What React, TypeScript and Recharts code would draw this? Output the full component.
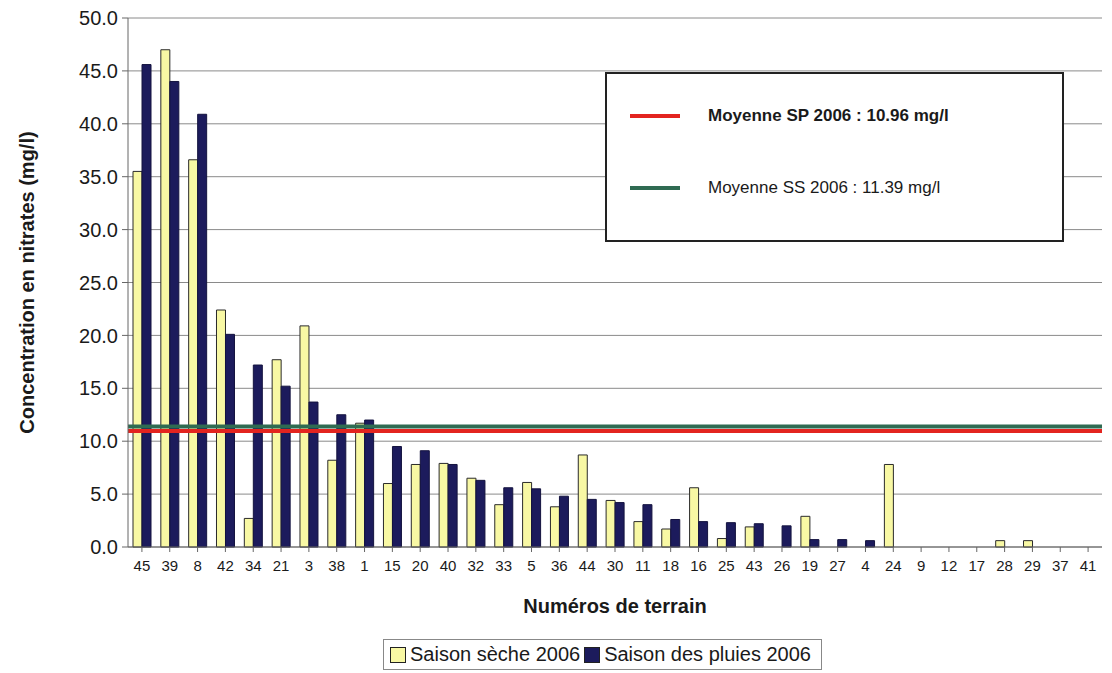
import React from "react"
import {
  BarChart,
  Bar,
  XAxis,
  YAxis,
  CartesianGrid,
  Legend,
  ReferenceLine,
} from "recharts"

// Numéros de terrain, triés comme sur l'axe
const terrains = [
  "45", "39", "8", "42", "34", "21", "3", "38", "1", "15", "20", "40", "32", "33", "5", "36", "44", "30",
  "11", "18", "16", "25", "43", "26", "19", "27", "4", "24", "9", "12", "17", "28", "29", "37", "41",
]

// Concentrations en nitrates (mg/l)
const saisonSeche = [
  35.5, 47.0, 36.6, 22.4, 2.7, 17.7, 20.9, 8.2, 11.7, 6.0, 7.8, 7.9, 6.5, 4.0, 6.1, 3.8, 8.7, 4.4,
  2.4, 1.7, 5.6, 0.8, 1.9, 0, 2.9, 0, 0, 7.8, 0, 0, 0, 0.6, 0.6, 0, 0,
]
const saisonPluies = [
  45.6, 44.0, 40.9, 20.1, 17.2, 15.2, 13.7, 12.5, 12.0, 9.5, 9.1, 7.8, 6.3, 5.6, 5.5, 4.8, 4.5, 4.2,
  4.0, 2.6, 2.4, 2.3, 2.2, 2.0, 0.7, 0.7, 0.6, 0, 0, 0, 0, 0, 0, 0, 0,
]

const yTicks = [0, 5, 10, 15, 20, 25, 30, 35, 40, 45, 50]

const moyenneSP = 10.96
const moyenneSS = 11.39

const FONT = "'Liberation Sans', Arial, sans-serif"
const JAUNE = "#f8f8a4"
const MARINE = "#1c1b5c"
const ROUGE = "#e3241f"
const VERT = "#2f6b52"

const data = terrains.map((t, i) => ({
  terrain: t,
  seche: saisonSeche[i],
  pluies: saisonPluies[i],
}))

function YTitle(props: any) {
  const vb = props.viewBox || {}
  const cx = (vb.x ?? 0) + 27
  const cy = (vb.y ?? 0) + (vb.height ?? 0) / 2
  return (
    <text
      x={cx}
      y={cy}
      transform={`rotate(-90 ${cx} ${cy})`}
      textAnchor="middle"
      dominantBaseline="central"
      fontFamily={FONT}
      fontWeight="bold"
      fontSize={20}
      fill="#1a1a1a"
    >
      Concentration en nitrates (mg/l)
    </text>
  )
}

function SaisonLegend() {
  const item = (color: string, label: string) => (
    <span style={{ display: "inline-flex", alignItems: "center", marginRight: 4 }}>
      <span
        style={{
          display: "inline-block",
          width: 14,
          height: 14,
          background: color,
          border: "1.5px solid #222",
          marginRight: 4,
        }}
      />
      <span>{label}</span>
    </span>
  )
  return (
    <div
      style={{
        display: "inline-flex",
        alignItems: "center",
        border: "1px solid #888",
        padding: "3px 6px 3px 6px",
        fontFamily: FONT,
        fontSize: 20,
        color: "#1a1a1a",
        background: "#fff",
        whiteSpace: "nowrap",
      }}
    >
      {item(JAUNE, "Saison sèche 2006")}
      {item(MARINE, "Saison des pluies 2006")}
    </div>
  )
}

function MoyennesBox() {
  const row = (color: string, label: string, bold: boolean, top: number) => (
    <div style={{ position: "absolute", left: 0, top, display: "flex", alignItems: "center" }}>
      <span style={{ display: "inline-block", marginLeft: 23, width: 50, height: 4, background: color }} />
      <span
        style={{
          marginLeft: 28,
          fontFamily: FONT,
          fontSize: 17,
          fontWeight: bold ? "bold" : "normal",
          color: "#1a1a1a",
        }}
      >
        {label}
      </span>
    </div>
  )
  return (
    <div
      style={{
        position: "absolute",
        left: 605,
        top: 72,
        width: 455,
        height: 166,
        border: "2px solid #222",
        background: "#fff",
      }}
    >
      {row(ROUGE, `Moyenne SP 2006 : ${moyenneSP.toFixed(2)} mg/l`, true, 32)}
      {row(VERT, `Moyenne SS 2006 : ${moyenneSS.toFixed(2)} mg/l`, false, 104)}
    </div>
  )
}

export default function App() {
  return (
    <div style={{ position: "absolute", left: 0, top: 0, width: 1112, height: 673, background: "#fff" }}>
      <BarChart
        width={1112}
        height={673}
        data={data}
        margin={{ top: 18, right: 10, left: 0, bottom: 3 }}
        barCategoryGap="18%"
        barGap={0}
      >
        <CartesianGrid vertical={false} stroke="#8a8a8a" strokeWidth={1} />
        <XAxis
          dataKey="terrain"
          interval={0}
          height={92}
          tickSize={5}
          tickMargin={8}
          stroke="#666"
          tick={{ fill: "#1a1a1a", fontSize: 15, fontFamily: FONT }}
          label={{
            value: "Numéros de terrain",
            position: "insideBottom",
            offset: 26,
            style: { fontFamily: FONT, fontWeight: "bold", fontSize: 20, fill: "#1a1a1a" },
          }}
        />
        <YAxis
          width={128}
          domain={[0, 50]}
          ticks={yTicks}
          interval={0}
          tickSize={6}
          tickMargin={4}
          stroke="#666"
          tickFormatter={(v: number) => v.toFixed(1)}
          tick={{ fill: "#1a1a1a", fontSize: 20, fontFamily: FONT }}
          label={<YTitle />}
        />
        <YAxis
          yAxisId="cadre"
          orientation="right"
          width={0}
          domain={[0, 50]}
          tick={false}
          tickLine={false}
          stroke="#888"
        />
        <Legend
          verticalAlign="bottom"
          content={() => <SaisonLegend />}
          wrapperStyle={{ left: 383, width: "auto" }}
        />
        <Bar dataKey="seche" name="Saison sèche 2006" fill={JAUNE} stroke="#2a2a2a" strokeWidth={1} isAnimationActive={false} />
        <Bar dataKey="pluies" name="Saison des pluies 2006" fill={MARINE} stroke="#14133f" strokeWidth={1} isAnimationActive={false} />
        <ReferenceLine y={moyenneSS} stroke={VERT} strokeWidth={4} />
        <ReferenceLine y={moyenneSP} stroke={ROUGE} strokeWidth={4} />
      </BarChart>
      <MoyennesBox />
    </div>
  )
}
